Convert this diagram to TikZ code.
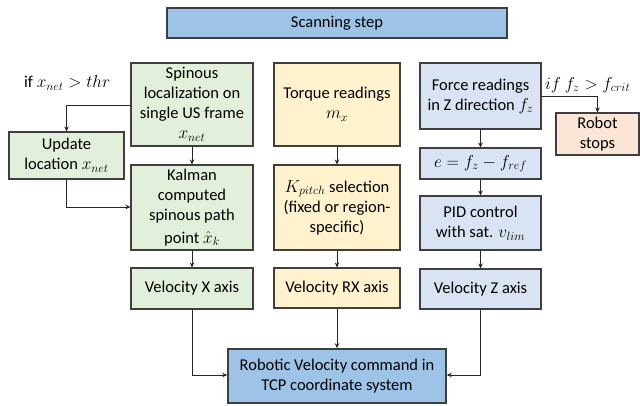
\documentclass[tikz,border=0pt]{standalone}
\usepackage{fontspec}
\setmainfont{Carlito}
\usetikzlibrary{arrows.meta}
\definecolor{gfill}{HTML}{E2EFDA}
\definecolor{yfill}{HTML}{FFF2CC}
\definecolor{bfill}{HTML}{DAE3F3}
\definecolor{tfill}{HTML}{9DC3E6}
\definecolor{rfill}{HTML}{FBE5D6}
\definecolor{edge}{HTML}{3F3F3F}
\begin{document}
\begin{tikzpicture}[x=1pt,y=-1pt,
  box/.style={draw=edge,line width=1.1pt,align=center,inner sep=1pt,
    font=\fontsize{16.5}{20}\selectfont},
  gbox/.style={box,fill=gfill,minimum width=122pt},
  ybox/.style={box,fill=yfill,minimum width=126pt},
  bbox/.style={box,fill=bfill,minimum width=121pt},
  arr/.style={draw=black!85,line width=0.8pt,-{Stealth[length=5pt,width=4.5pt]}},
  lbl/.style={font=\fontsize{16.5}{18}\selectfont,inner sep=0pt}]
\useasboundingbox (0,0) rectangle (640,406);
% title
\node[box,fill=tfill,line width=1.6pt,minimum width=340pt,minimum height=30pt] (title) at (337,23) {Scanning step};
% green column
\node[gbox,minimum height=83pt] (spin) at (192,104.5) {Spinous\\localization on\\single US frame\\$x_{net}$};
\node[gbox,minimum height=85pt] (kal) at (192,207.5) {Kalman\\computed\\spinous path\\[3pt]point $\hat{x}_k$};
\node[gbox,minimum height=41pt] (velx) at (192,288.5) {Velocity X axis};
\node[box,fill=gfill,minimum width=115pt,minimum height=47pt] (upd) at (66.5,155.5) {Update\\location $x_{net}$};
% yellow column
\node[ybox,minimum height=83pt] (torq) at (337,104.5) {Torque readings\\$m_x$};
\node[ybox,minimum height=85pt] (kp) at (337,207.5) {$K_{pitch}$ selection\\(fixed or region-\\specific)};
\node[ybox,minimum height=40pt] (velrx) at (337,288) {Velocity RX axis};
% blue column
\node[bbox,minimum height=66pt] (force) at (480.5,96) {Force readings\\in Z direction $f_z$};
\node[bbox,minimum height=31pt] (err) at (480.5,163.5) {$e=f_z-f_{ref}$};
\node[bbox,minimum height=54pt] (pid) at (480.5,223) {PID control\\with sat. $v_{lim}$};
\node[bbox,minimum height=40pt] (velz) at (480.5,289) {Velocity Z axis};
\node[box,fill=rfill,minimum width=83pt,minimum height=42pt] (stop) at (597.5,134) {Robot\\stops};
% command
\node[box,fill=tfill,line width=1.6pt,minimum width=218pt,minimum height=54pt] (cmd) at (337,376) {Robotic Velocity command in\\TCP coordinate system};
% labels
\node[lbl,anchor=west] (l1) at (24,83) {if $x_{net}>thr$};
\node[lbl,anchor=west] (l2) at (545,85) {$if\ f_z>f_{crit}$};
% arrows
\coordinate (c1) at (66.5,105);
\coordinate (c2) at (66.5,207);
\coordinate (c3) at (600,96);
\coordinate (c4) at (192,375);
\coordinate (c5) at (480.5,375);
\draw[arr] (spin.west|-c1) -| (upd.north);
\draw[arr] (upd.south) |- (kal.west|-c2);
\draw[arr] (spin) -- (kal);
\draw[arr] (kal) -- (velx);
\draw[arr] (velx.south) |- (cmd.west|-c4);
\draw[arr] (torq) -- (kp);
\draw[arr] (kp) -- (velrx);
\draw[arr] (velrx) -- (cmd);
\draw[arr] (force) -- (err);
\draw[arr] (err) -- (pid);
\draw[arr] (pid) -- (velz);
\draw[arr] (velz.south) |- (cmd.east|-c5);
\draw[arr] (force.east|-c3) -| (stop.north);
\end{tikzpicture}
\end{document}
